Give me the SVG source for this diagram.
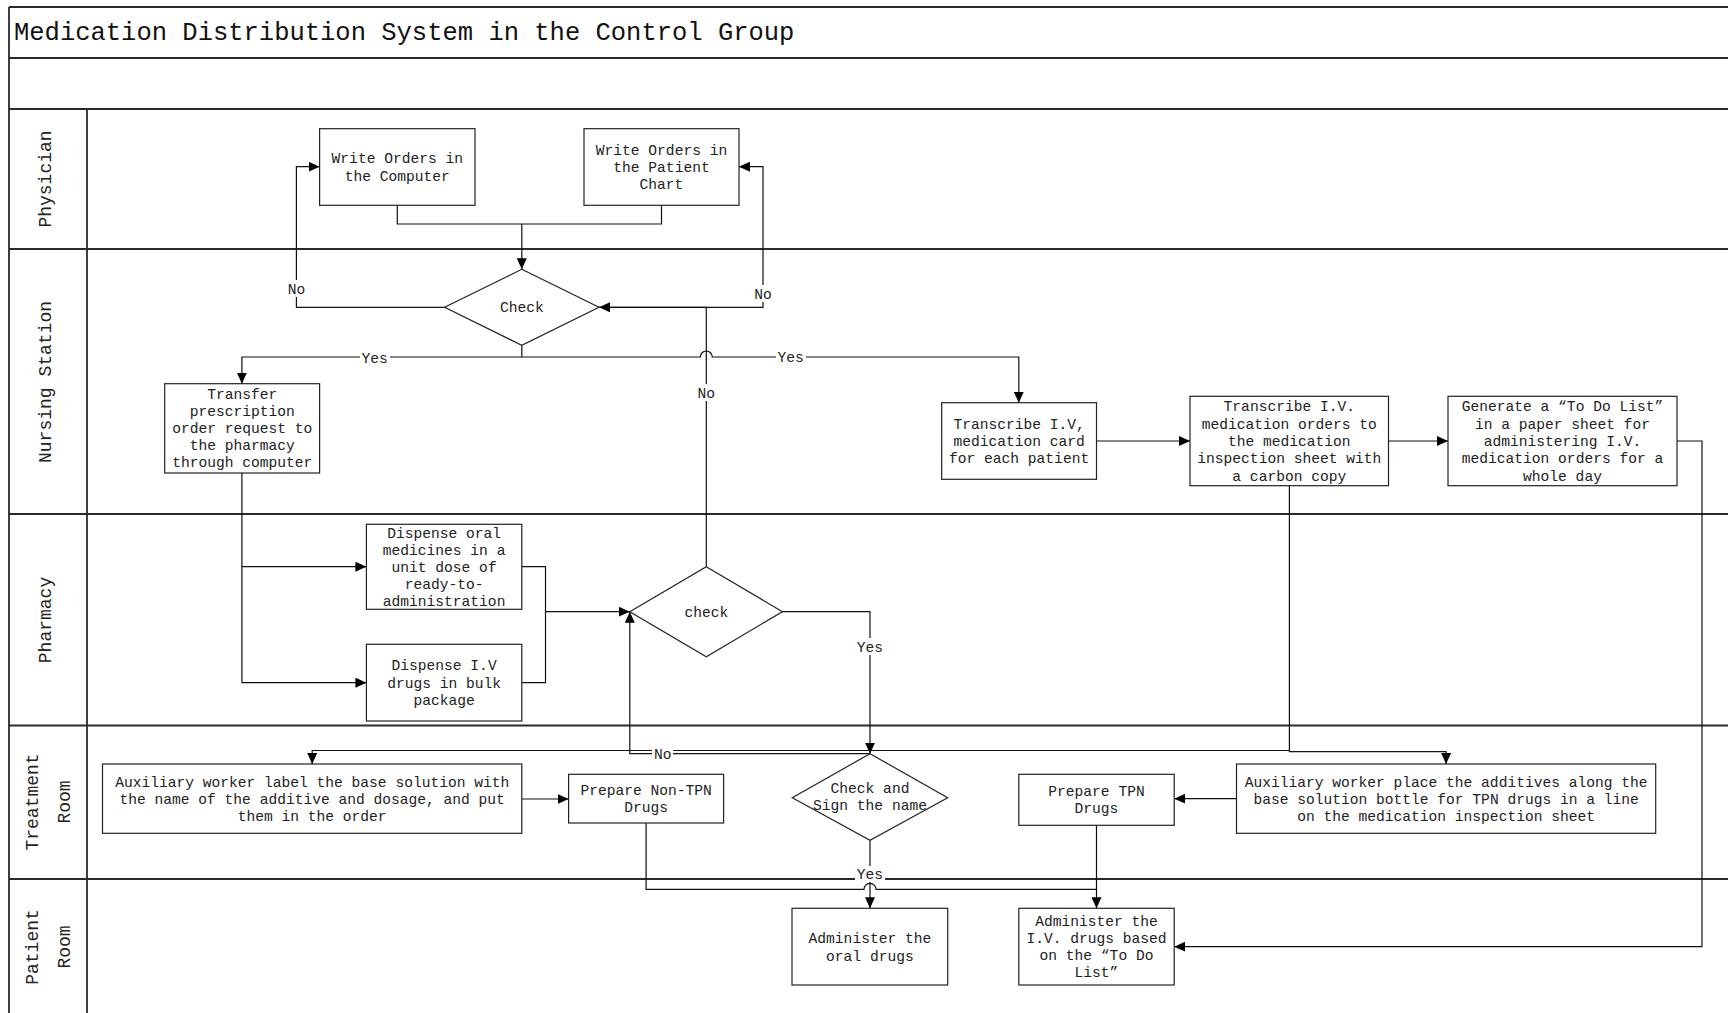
<svg xmlns="http://www.w3.org/2000/svg" width="1728" height="1013" viewBox="0 0 1728 1013">
<defs>
<marker id="ah" markerWidth="12" markerHeight="10" refX="11" refY="5" orient="auto" markerUnits="userSpaceOnUse">
<path d="M0,0 L11,5 L0,10 z" fill="#000"/>
</marker>
</defs>
<style>
.lane{stroke:#2a2a2a;stroke-width:1.8;fill:none}
.box{fill:#fff;stroke:#222;stroke-width:1.2}
.t{font-family:"Liberation Mono",monospace;font-size:14.6px;fill:#222;text-anchor:middle}
.lt{font-family:"Liberation Mono",monospace;font-size:18px;fill:#222;text-anchor:middle}
.c{fill:none;stroke:#111;stroke-width:1.2}
.ca{fill:none;stroke:#111;stroke-width:1.2;marker-end:url(#ah)}
.lb{fill:#fff}
</style>
<rect x="0" y="0" width="1728" height="1013" fill="#fff"/>
<g id="frame">
<path class="lane" d="M9,7 H1728 M9,58 H1728 M9,109 H1728 M9,249 H1728 M9,514 H1728 M9,725.5 H1728 M9,879 H1728 M9,7 V1013 M87,109 V1013"/>
<text x="14" y="39.5" font-family="'Liberation Mono',monospace" font-size="25.5" fill="#111">Medication Distribution System in the Control Group</text>
<text class="lt" transform="translate(51,179) rotate(-90)">Physician</text>
<text class="lt" transform="translate(51,382) rotate(-90)">Nursing Station</text>
<text class="lt" transform="translate(51,620) rotate(-90)">Pharmacy</text>
<text class="lt" transform="translate(38,802) rotate(-90)">Treatment</text>
<text class="lt" transform="translate(70,802) rotate(-90)">Room</text>
<text class="lt" transform="translate(38,947) rotate(-90)">Patient</text>
<text class="lt" transform="translate(70,947) rotate(-90)">Room</text>
</g>
<g id="connectors">
<path class="c" d="M397.3,205.3 V224 H661.5 V205.3"/>
<path class="ca" d="M521.8,224 V269.3"/>
<path class="ca" d="M444.6,307.3 H296.4 V166.7 H319.6"/>
<path class="ca" d="M599,307.3 H763 V166.7 H739"/>
<path class="ca" d="M706.3,566.7 V307.3 H599"/>
<path class="ca" d="M521.8,345.3 V357 H700.3 A6,6 0 0 1 712.3,357 H1018.8 V402.7"/>
<path class="ca" d="M521.8,357 H241.9 V383.7"/>
<path class="ca" d="M1096.5,441 H1190"/>
<path class="ca" d="M1388.5,441 H1448"/>
<path class="ca" d="M1677,441 H1702 V946.7 H1174.2"/>
<path class="ca" d="M241.9,473 V682.7 H366.4"/>
<path class="ca" d="M241.9,566.7 H366.4"/>
<path class="c" d="M521.8,566.7 H545.5 V682.7 H521.8"/>
<path class="ca" d="M545.5,611.7 H629.8"/>
<path class="ca" d="M782.4,611.7 H870 V753.7"/>
<path class="ca" d="M870,753.7 H629.8 V611.7"/>
<path class="ca" d="M1289.4,485.7 V750.5 H312.2 V764"/>
<path class="ca" d="M1289.4,750.5 V751.7 H1446.1 V764"/>
<path class="ca" d="M521.8,799 H568.6"/>
<path class="ca" d="M1236.5,798.7 H1174.2"/>
<path class="ca" d="M870,840.3 V908.3"/>
<path class="c" d="M646.1,823 V889.3 H864 A6,6 0 0 1 876,889.3 H1096.5"/>
<path class="ca" d="M1096.5,825.3 V908.3"/>
</g>
<g id="labels">
<rect class="lb" x="286" y="280" width="21" height="17"/><text class="t" x="296.4" y="293.7">No</text>
<rect class="lb" x="752" y="285" width="21" height="17"/><text class="t" x="763" y="299">No</text>
<rect class="lb" x="696" y="384" width="21" height="17"/><text class="t" x="706.3" y="398">No</text>
<rect class="lb" x="360" y="349" width="30" height="17"/><text class="t" x="374.7" y="362.5">Yes</text>
<rect class="lb" x="776" y="348" width="30" height="17"/><text class="t" x="790.6" y="362">Yes</text>
<rect class="lb" x="855" y="638" width="30" height="17"/><text class="t" x="870" y="652.3">Yes</text>
<rect class="lb" x="652" y="745" width="21" height="17"/><text class="t" x="662.7" y="758.7">No</text>
<rect class="lb" x="855" y="866" width="30" height="16"/><text class="t" x="870" y="879">Yes</text>
</g>
<g id="n1"><rect class="box" x="319.6" y="128.7" width="155.4" height="76.6"/>
<text class="t" x="397.3" y="163.3">Write Orders in</text><text class="t" x="397.3" y="180.7">the Computer</text></g>
<g id="n2"><rect class="box" x="584" y="128.7" width="155" height="76.6"/>
<text class="t" x="661.5" y="154.5">Write Orders in</text><text class="t" x="661.5" y="171.8">the Patient</text><text class="t" x="661.5" y="189.1">Chart</text></g>
<g id="d1"><polygon class="box" points="521.8,269.3 599,307.3 521.8,345.3 444.6,307.3"/>
<text class="t" x="521.8" y="312">Check</text></g>
<g id="n3"><rect class="box" x="164.7" y="383.7" width="154.9" height="89.3"/>
<text class="t" x="242.2" y="398.5">Transfer</text><text class="t" x="242.2" y="415.7">prescription</text><text class="t" x="242.2" y="432.9">order request to</text><text class="t" x="242.2" y="450.1">the pharmacy</text><text class="t" x="242.2" y="467.3">through computer</text></g>
<g id="n4"><rect class="box" x="941.7" y="402.7" width="154.8" height="76.6"/>
<text class="t" x="1019.1" y="428.5">Transcribe I.V,</text><text class="t" x="1019.1" y="445.8">medication card</text><text class="t" x="1019.1" y="463.1">for each patient</text></g>
<g id="n5"><rect class="box" x="1190" y="396.3" width="198.5" height="89.4"/>
<text class="t" x="1289.3" y="411.4">Transcribe I.V.</text><text class="t" x="1289.3" y="428.7">medication orders to</text><text class="t" x="1289.3" y="446">the medication</text><text class="t" x="1289.3" y="463.3">inspection sheet with</text><text class="t" x="1289.3" y="480.6">a carbon copy</text></g>
<g id="n6"><rect class="box" x="1448" y="396.3" width="229" height="89.4"/>
<text class="t" x="1562.5" y="411.4">Generate a “To Do List”</text><text class="t" x="1562.5" y="428.7">in a paper sheet for</text><text class="t" x="1562.5" y="446">administering I.V.</text><text class="t" x="1562.5" y="463.3">medication orders for a</text><text class="t" x="1562.5" y="480.6">whole day</text></g>
<g id="n7"><rect class="box" x="366.4" y="524.3" width="155.4" height="85"/>
<text class="t" x="444.1" y="537.8">Dispense oral</text><text class="t" x="444.1" y="554.9">medicines in a</text><text class="t" x="444.1" y="572">unit dose of</text><text class="t" x="444.1" y="589.1">ready-to-</text><text class="t" x="444.1" y="606.2">administration</text></g>
<g id="n8"><rect class="box" x="366.4" y="644.3" width="155.4" height="76.7"/>
<text class="t" x="444.1" y="670">Dispense I.V</text><text class="t" x="444.1" y="687.5">drugs in bulk</text><text class="t" x="444.1" y="705">package</text></g>
<g id="d2"><polygon class="box" points="706.3,566.7 782.4,611.7 706.3,656.7 629.8,611.7"/>
<text class="t" x="706.3" y="616.5">check</text></g>
<g id="n9"><rect class="box" x="102.5" y="764" width="419.3" height="69.3"/>
<text class="t" x="312.2" y="786.7">Auxiliary worker label the base solution with</text><text class="t" x="312.2" y="803.7">the name of the additive and dosage, and put</text><text class="t" x="312.2" y="820.7">them in the order</text></g>
<g id="n10"><rect class="box" x="568.6" y="774.3" width="155" height="48.7"/>
<text class="t" x="646.1" y="794.5">Prepare Non-TPN</text><text class="t" x="646.1" y="811.8">Drugs</text></g>
<g id="d3"><polygon class="box" points="870,753.7 947.7,797.7 870,840.3 792.3,797.7"/>
<text class="t" x="870" y="793.3">Check and</text><text class="t" x="870" y="810">Sign the name</text></g>
<g id="n11"><rect class="box" x="1018.8" y="774.3" width="155.4" height="51"/>
<text class="t" x="1096.5" y="796">Prepare TPN</text><text class="t" x="1096.5" y="813.3">Drugs</text></g>
<g id="n12"><rect class="box" x="1236.5" y="764" width="419.2" height="69.3"/>
<text class="t" x="1446.1" y="786.7">Auxiliary worker place the additives along the</text><text class="t" x="1446.1" y="803.7">base solution bottle for TPN drugs in a line</text><text class="t" x="1446.1" y="820.7">on the medication inspection sheet</text></g>
<g id="n13"><rect class="box" x="792" y="908.3" width="155.7" height="76.7"/>
<text class="t" x="869.9" y="943.3">Administer the</text><text class="t" x="869.9" y="960.7">oral drugs</text></g>
<g id="n14"><rect class="box" x="1018.8" y="908.3" width="155.4" height="76.7"/>
<text class="t" x="1096.5" y="925.5">Administer the</text><text class="t" x="1096.5" y="942.8">I.V. drugs based</text><text class="t" x="1096.5" y="960.1">on the “To Do</text><text class="t" x="1096.5" y="977.4">List”</text></g>
</svg>
